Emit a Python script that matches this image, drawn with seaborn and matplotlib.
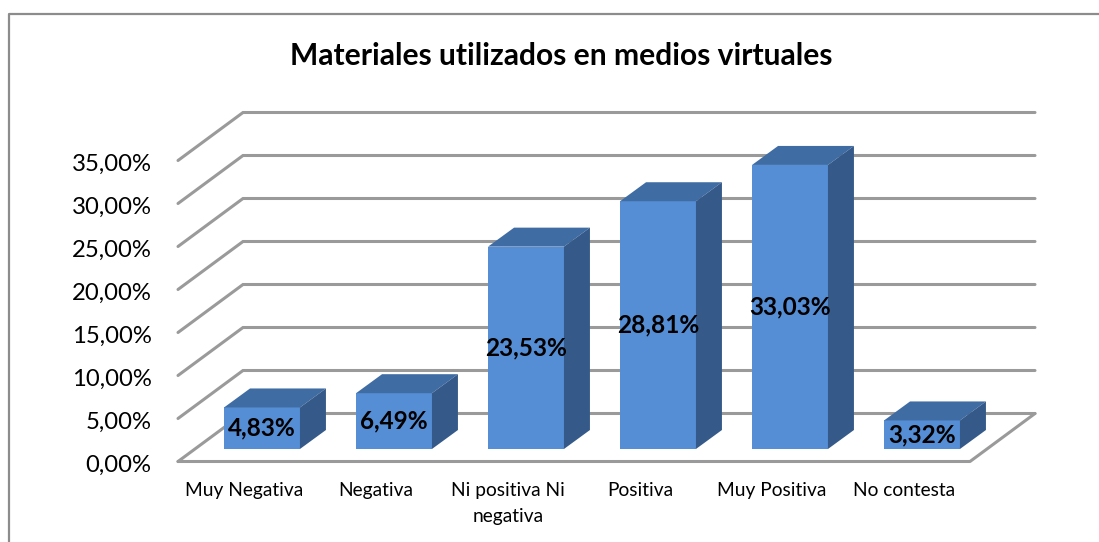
import matplotlib
matplotlib.use("Agg")
import matplotlib.pyplot as plt
from matplotlib.patches import Polygon
from matplotlib.lines import Line2D
from matplotlib.transforms import ScaledTranslation
import seaborn as sns
import pandas as pd

categories = ["Muy Negativa", "Negativa", "Ni positiva Ni\nnegativa", "Positiva", "Muy Positiva", "No contesta"]
values = [4.83, 6.49, 23.53, 28.81, 33.03, 3.32]
value_labels = ["4,83%", "6,49%", "23,53%", "28,81%", "33,03%", "3,32%"]
title = "Materiales utilizados en medios virtuales"
y_ticks = [0, 5, 10, 15, 20, 25, 30, 35]
y_tick_labels = ["0,00%", "5,00%", "10,00%", "15,00%", "20,00%", "25,00%", "30,00%", "35,00%"]

W, H = 1099, 542
sns.set_theme(style="white")
plt.rcParams["font.family"] = ["Lato", "DejaVu Sans"]

fig = plt.figure(figsize=(W / 100, H / 100), dpi=100, facecolor="white")
L, R, T, B = 178, 970, 160.5, 461.5
ax = fig.add_axes([L / W, 1 - B / H, (R - L) / W, (B - T) / H])
df = pd.DataFrame({"cat": categories, "val": values})
sns.barplot(data=df, x="cat", y="val", color="#558ed5", saturation=1, width=0.575, ax=ax, zorder=5)
ax.set_xlim(-0.5, 5.5)
ax.set_ylim(0, 35)
ax.patch.set_alpha(0)
for s in ax.spines.values():
    s.set_visible(False)

px = 1 / ((R - L) / 6)      # one pixel in category units
py = 35 / (B - T)           # one pixel in percent units
wall_dx, wall_dy = 65 * px, 48 * py
gap_dx, gap_dy = 18 * px, 12.5 * py
dep_dx, dep_dy = 26 * px, 19 * py

grid_c = "#9a9a9a"
for t in y_ticks:
    ax.plot([-0.5, -0.5 + wall_dx, 5.5 + wall_dx], [t, t + wall_dy, t + wall_dy], color=grid_c, lw=2.2,
            clip_on=False, zorder=1, solid_joinstyle="miter")
ax.plot([-0.5, 5.5, 5.5 + wall_dx], [0, 0, wall_dy], color=grid_c, lw=2.2, clip_on=False, zorder=1)

# bars: shift the faces onto the floor and add top and side faces
for p, v, lab in zip(ax.patches, values, value_labels):
    x0 = p.get_x() + gap_dx
    w = p.get_width()
    p.set_x(x0)
    p.set_y(gap_dy)
    p.set_linewidth(0)
    x1 = x0 + w
    y0, y1 = gap_dy, gap_dy + v
    ax.add_patch(Polygon([(x0, y1), (x1, y1), (x1 + dep_dx, y1 + dep_dy), (x0 + dep_dx, y1 + dep_dy)],
                         closed=True, fc="#3f6ca3", ec="none", zorder=5, clip_on=False))
    ax.add_patch(Polygon([(x1, y0), (x1, y1), (x1 + dep_dx, y1 + dep_dy), (x1 + dep_dx, y0 + dep_dy)],
                         closed=True, fc="#355a8a", ec="none", zorder=5, clip_on=False))
    ax.text(x0 + w / 2, y0 + v / 2, lab, ha="center", va="center",
            fontsize=17.6, fontweight="bold", color="black", zorder=7, clip_on=False)

ax.set_xlabel("")
ax.set_ylabel("")
ax.set_yticks(y_ticks, y_tick_labels, fontsize=17.2, color="black")
ax.set_xticks(range(6), categories, fontsize=13.8, color="black", linespacing=1.6)
ax.tick_params(axis="y", length=0, pad=19)
ax.tick_params(axis="x", length=0, pad=15)
nudge = ScaledTranslation(0, -2 / 100, fig.dpi_scale_trans)
for lbl in ax.get_yticklabels():
    lbl.set_transform(lbl.get_transform() + nudge)

fig.text(561 / W, 1 - 56 / H, title, ha="center", va="center", fontsize=21.6, fontweight="bold", color="black")

frame_x, frame_y = 8.5 / W, 1 - 14 / H
fig.add_artist(Line2D([frame_x, frame_x, 1], [0, frame_y, frame_y], transform=fig.transFigure,
                      color="#8c8c8c", lw=1.6))
fig.savefig("out.png", dpi=100, facecolor="white")
